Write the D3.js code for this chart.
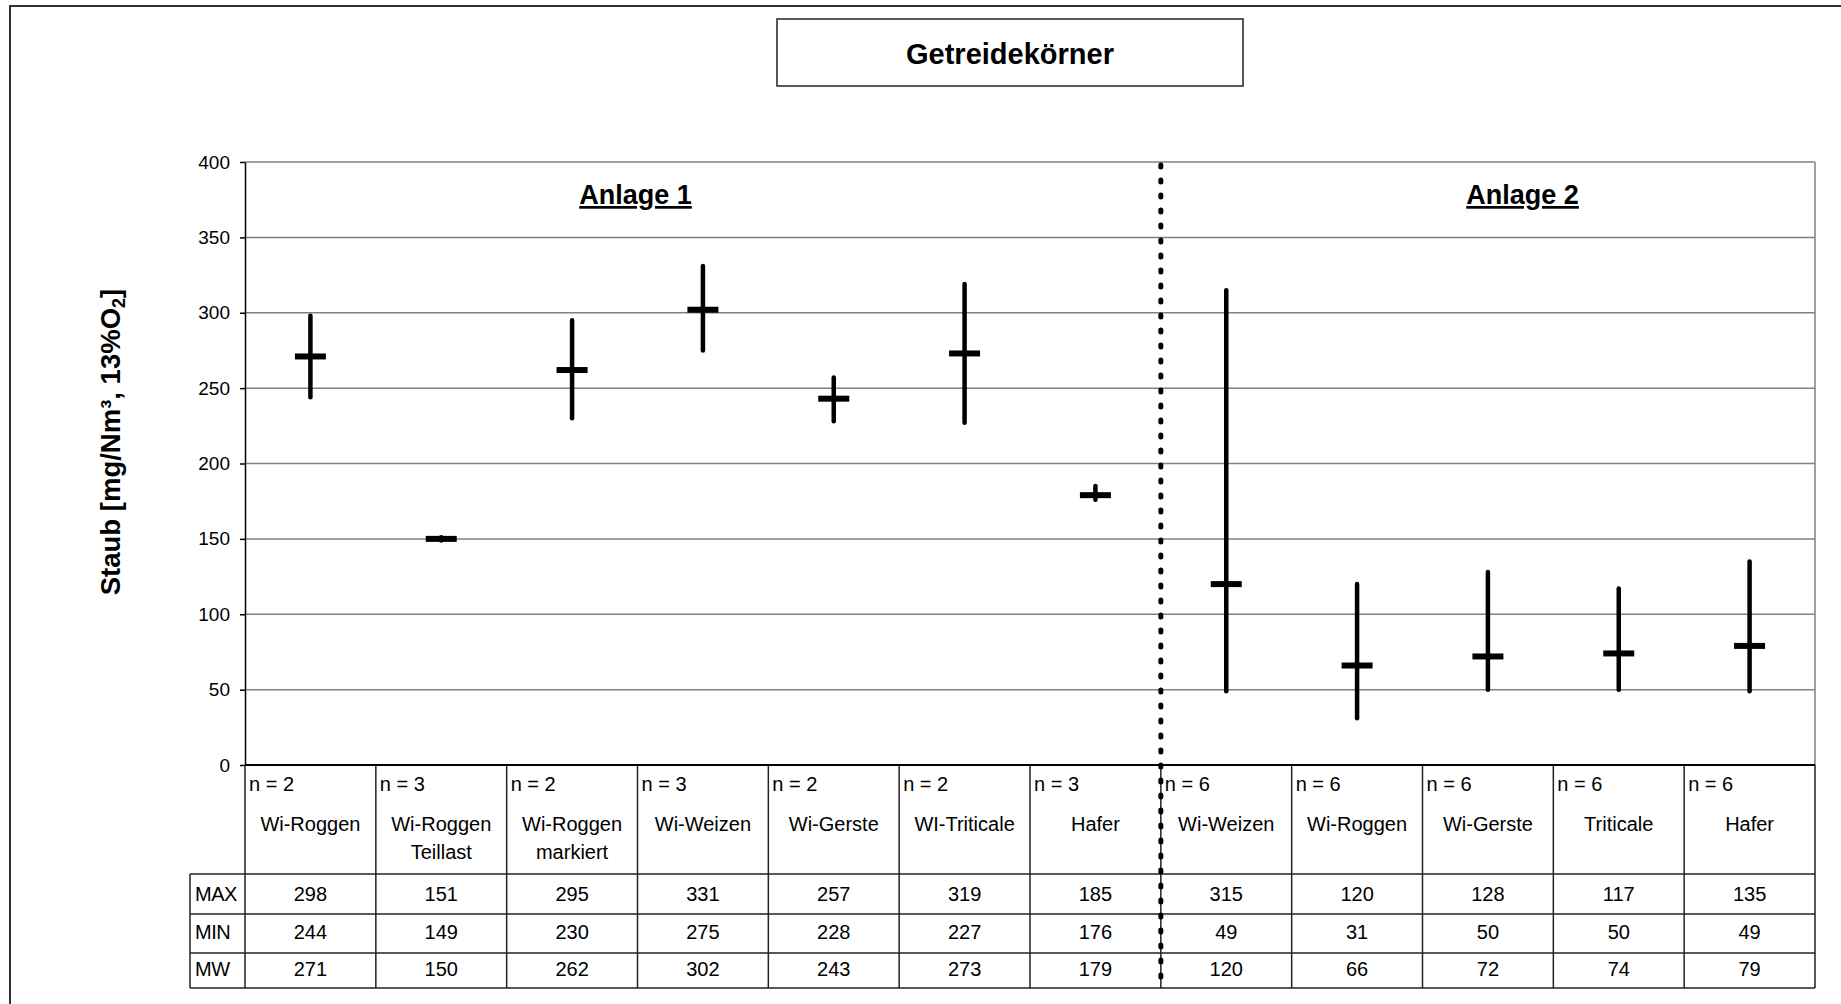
<!DOCTYPE html>
<html>
<head>
<meta charset="utf-8">
<script src="https://cdn.jsdelivr.net/npm/d3@7"></script>
<style>
  html, body { margin: 0; padding: 0; background: #fff; }
  svg { display: block; font-family: "Liberation Sans", Arial, sans-serif; }
</style>
</head>
<body>
<svg id="chart" width="1841" height="1004"></svg>
<script>
// ---------------- data ----------------
const chartTitle = "Getreidekörner";
const groupLabels = ["Anlage 1", "Anlage 2"];
const categories = ["Wi-Roggen", "Wi-Roggen Teillast", "Wi-Roggen markiert", "Wi-Weizen", "Wi-Gerste", "WI-Triticale", "Hafer",
                    "Wi-Weizen", "Wi-Roggen", "Wi-Gerste", "Triticale", "Hafer"];
const nCounts   = [2, 3, 2, 3, 2, 2, 3, 6, 6, 6, 6, 6];
const maxValues = [298, 151, 295, 331, 257, 319, 185, 315, 120, 128, 117, 135];
const minValues = [244, 149, 230, 275, 228, 227, 176, 49, 31, 50, 50, 49];
const meanValues = [271, 150, 262, 302, 243, 273, 179, 120, 66, 72, 74, 79];
const rowLabels = ["MAX", "MIN", "MW"];
const yTicks = [0, 50, 100, 150, 200, 250, 300, 350, 400];
const yTitle = "Staub [mg/Nm³, 13%O";
const anlage1Count = 7;

// ---------------- layout ----------------
const svg = d3.select("#chart");
const L = 245, R = 1815, T = 162, B = 765;
const rowY = [874, 914, 953, 988]; // table row bottoms: header, MAX, MIN, MW
const labelLeft = 190;
const font = "'Liberation Sans', Arial, sans-serif";

const x = d3.scaleBand().domain(d3.range(categories.length)).range([L, R]).padding(0);
const y = d3.scaleLinear().domain([0, 400]).range([B, T]);
const bw = x.bandwidth();

// outer frame
svg.append("path")
  .attr("d", `M10,1010 L10,6 L1850,6`)
  .attr("fill", "none").attr("stroke", "#333").attr("stroke-width", 2);

// title box
svg.append("rect").attr("x", 777).attr("y", 19).attr("width", 466).attr("height", 67)
  .attr("fill", "#fff").attr("stroke", "#222").attr("stroke-width", 1.5);
svg.append("text").attr("x", 1010).attr("y", 64).attr("text-anchor", "middle")
  .attr("font-size", 29).attr("font-weight", "bold").attr("fill", "#000").text(chartTitle);

// gridlines
svg.append("g").selectAll("line").data(yTicks.filter(d => d > 0)).join("line")
  .attr("x1", L).attr("x2", R).attr("y1", d => y(d)).attr("y2", d => y(d))
  .attr("stroke", "#808080").attr("stroke-width", 1.5);

// right border of plot (gray)
svg.append("line").attr("x1", R).attr("x2", R).attr("y1", T).attr("y2", B)
  .attr("stroke", "#808080").attr("stroke-width", 1.5);

// y axis
const yAxis = d3.axisLeft(y).tickValues(yTicks).tickSize(5).tickPadding(10).tickSizeOuter(0);
const gy = svg.append("g").attr("transform", `translate(${L},0)`).call(yAxis);
gy.select(".domain").attr("stroke", "#000").attr("stroke-width", 1.5);
gy.selectAll(".tick line").attr("stroke", "#000").attr("stroke-width", 1.5);
gy.selectAll(".tick text").attr("font-size", 19).attr("font-family", font).attr("fill", "#000");

// y title
const yt = svg.append("text").attr("transform", "translate(120,442) rotate(-90)")
  .attr("text-anchor", "middle").attr("font-size", 27.5).attr("font-weight", "bold").attr("fill", "#000");
yt.append("tspan").text(yTitle);
yt.append("tspan").attr("font-size", 18).attr("dy", 5).text("2");
yt.append("tspan").attr("dy", -5).text("]");

// group labels
const groupPos = [x(3) - 2, x(9) + bw * 0.765];
groupLabels.forEach((g, i) => {
  svg.append("text").attr("x", groupPos[i]).attr("y", 204).attr("text-anchor", "middle")
    .attr("font-size", 27).attr("font-weight", "bold").attr("text-decoration", "underline")
    .attr("fill", "#000").text(g);
});

// table lines
const tbl = svg.append("g").attr("stroke", "#222").attr("stroke-width", 1.5);
d3.range(categories.length + 1).forEach(i => {
  const xx = i < categories.length ? x(i) : R;
  tbl.append("line").attr("x1", xx).attr("x2", xx).attr("y1", B).attr("y2", rowY[3]);
});
tbl.append("line").attr("x1", labelLeft).attr("x2", labelLeft).attr("y1", rowY[0]).attr("y2", rowY[3]);
rowY.forEach(ry => {
  tbl.append("line").attr("x1", labelLeft).attr("x2", R).attr("y1", ry).attr("y2", ry);
});

// x axis (zero line)
svg.append("line").attr("x1", L).attr("x2", R).attr("y1", B).attr("y2", B)
  .attr("stroke", "#000").attr("stroke-width", 2);

// table texts
const tt = svg.append("g").attr("font-size", 20).attr("fill", "#000");
categories.forEach((c, i) => {
  tt.append("text").attr("x", x(i) + 4).attr("y", 791).text("n = " + nCounts[i]);
  const parts = c.split(" ");
  parts.forEach((p, j) => {
    tt.append("text").attr("x", x(i) + bw / 2).attr("y", 831 + j * 28)
      .attr("text-anchor", "middle").text(p);
  });
  [maxValues[i], minValues[i], meanValues[i]].forEach((v, r) => {
    tt.append("text").attr("x", x(i) + bw / 2).attr("y", [901, 939, 976][r])
      .attr("text-anchor", "middle").text(v);
  });
});
rowLabels.forEach((r, k) => {
  tt.append("text").attr("x", 195).attr("y", [901, 939, 976][k]).attr("letter-spacing", -0.5).text(r);
});

// range bars
const marks = svg.append("g");
categories.forEach((c, i) => {
  const cx = x(i) + bw / 2;
  marks.append("line").attr("x1", cx).attr("x2", cx)
    .attr("y1", y(maxValues[i])).attr("y2", y(minValues[i]))
    .attr("stroke", "#000").attr("stroke-width", 4.5).attr("stroke-linecap", "round");
  marks.append("line").attr("x1", cx - 15.5).attr("x2", cx + 15.5)
    .attr("y1", y(meanValues[i])).attr("y2", y(meanValues[i]))
    .attr("stroke", "#000").attr("stroke-width", 6);
});

// dotted separator between Anlage 1 and Anlage 2
const sepX = x(anlage1Count);
svg.append("line").attr("x1", sepX).attr("x2", sepX).attr("y1", T + 3).attr("y2", rowY[3] + 2)
  .attr("stroke", "#000").attr("stroke-width", 5).attr("stroke-linecap", "round")
  .attr("stroke-dasharray", "2,13");
</script>
</body>
</html>
